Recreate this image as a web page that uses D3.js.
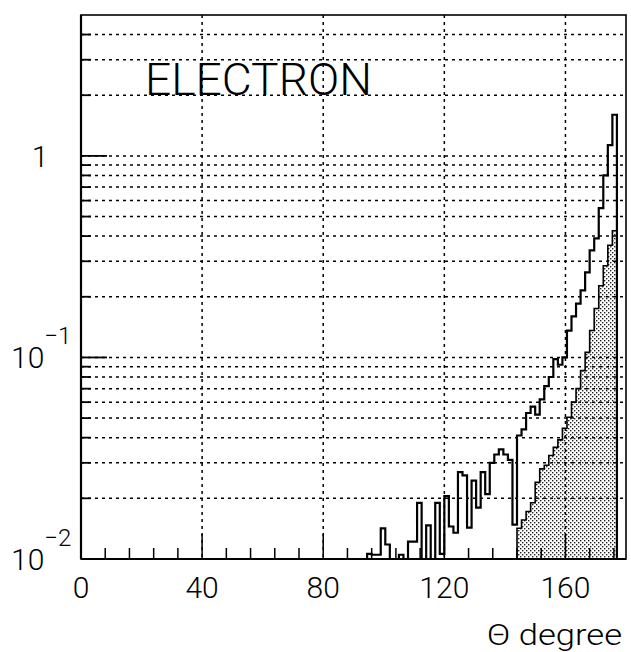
<!DOCTYPE html>
<html>
<head>
<meta charset="utf-8">
<script src="https://cdn.jsdelivr.net/npm/d3@7"></script>
<style>
  body { margin: 0; background: #fff; }
  text { font-family: Roboto, "DejaVu Sans", sans-serif; font-weight: 300; fill: #000; }
</style>
</head>
<body>
<div id="svg-holder"></div>
<script>
let svg = d3.select("#svg-holder").append('svg'),
    width = 631,
    height = 652

svg.attr("width", width)
    .attr("height", height)

// histogram data (theta bin lower edge in degrees, bin width 1.5)
let binWidth = 1.5
let allTheta = [94.5, 96, 97.5, 99, 100.5, 102, 103.5, 105, 106.5, 108, 109.5, 111, 112.5, 114, 115.5,
    117, 118.5, 120, 121.5, 123, 124.5, 126, 127.5, 129, 130.5, 132, 133.5, 135, 136.5, 138, 139.5,
    141, 142.5, 144, 145.5, 147, 148.5, 150, 151.5, 153, 154.5, 156, 157.5, 159, 160.5, 162, 163.5,
    165, 166.5, 168, 169.5, 171, 172.5, 174, 175.5]
let allValues = [0.0106, 0.0105, 0.0105, 0.0142, 0.0118, 0, 0, 0.0105, 0, 0.0122, 0.0122, 0.019, 0, 0.0147, 0,
    0.019, 0.0106, 0.0205, 0.0145, 0.0135, 0.027, 0.026, 0.0143, 0.0245, 0.018, 0.027, 0.021, 0.030, 0.033, 0.035, 0.033,
    0.031, 0.0148, 0.041, 0.044, 0.053, 0.057, 0.052, 0.062, 0.072, 0.080, 0.098, 0.092, 0.100, 0.136, 0.160, 0.185,
    0.215, 0.264, 0.34, 0.39, 0.55, 0.80, 1.13, 1.60]

let shadedTheta = [144, 145.5, 147, 148.5, 150, 151.5, 153, 154.5, 156, 157.5, 159, 160.5, 162, 163.5,
    165, 166.5, 168, 169.5, 171, 172.5, 174, 175.5]
let shadedValues = [0.0142, 0.0156, 0.0172, 0.019, 0.024, 0.028, 0.0292, 0.0326, 0.0358, 0.039, 0.0445, 0.0505, 0.060, 0.070,
    0.086, 0.106, 0.136, 0.175, 0.227, 0.285, 0.36, 0.425]

let xMajor = [0, 40, 80, 120, 160]
let xMinor = [8, 16, 24, 32, 48, 56, 64, 72, 88, 96, 104, 112, 128, 136, 144, 152, 168, 176]
let yGrid = [0.02, 0.03, 0.04, 0.05, 0.06, 0.07, 0.08, 0.09, 0.1, 0.2, 0.3, 0.4, 0.5, 0.6, 0.7, 0.8, 0.9, 1, 2, 3, 4]
let yMajor = [0.1, 1]

let pLeft = 81, pRight = 626, pTop = 15, pBottom = 559

let x = d3.scaleLinear()
    .domain([0, 180])
    .range([pLeft, pRight])

let y = d3.scaleLog()
    .domain([0.01, 5])
    .range([pBottom, pTop])

let yv = v => v > 0.01 ? y(v) : pBottom

// stipple for shaded histogram
let defs = svg.append('defs')
let pat = defs.append('pattern')
    .attr('id', 'stipple')
    .attr('patternUnits', 'userSpaceOnUse')
    .attr('width', 4)
    .attr('height', 4)
pat.append('rect').attr('x', 0).attr('y', 0).attr('width', 1.4).attr('height', 1.4).attr('fill', '#222')
pat.append('rect').attr('x', 2).attr('y', 2).attr('width', 1.4).attr('height', 1.4).attr('fill', '#222')

defs.append('clipPath').attr('id', 'plotclip')
    .append('rect')
    .attr('x', pLeft).attr('y', pTop)
    .attr('width', pRight - pLeft).attr('height', pBottom - pTop)

// Gridlines
svg.append('g')
    .selectAll('line')
    .data(yGrid)
    .enter()
    .append('line')
        .attr('x1', pLeft)
        .attr('x2', pRight)
        .attr('y1', d => y(d))
        .attr('y2', d => y(d))
        .attr('stroke', 'black')
        .attr('stroke-width', 1.5)
        .attr('stroke-dasharray', '3,4')

svg.append('g')
    .selectAll('line')
    .data(xMajor.slice(1))
    .enter()
    .append('line')
        .attr('x1', d => x(d))
        .attr('x2', d => x(d))
        .attr('y1', pTop)
        .attr('y2', pBottom)
        .attr('stroke', 'black')
        .attr('stroke-width', 1.5)
        .attr('stroke-dasharray', '3,4')

// Label
svg.append('text')
    .attr('x', 145)
    .attr('y', 95)
    .attr('font-size', 45)
    .attr('textLength', 227)
    .attr('lengthAdjust', 'spacingAndGlyphs')
    .text('ELECTRON')

// histogram step paths
function stepPoints(thetas, values) {
    let pts = [[x(thetas[0]), pBottom]]
    thetas.forEach((t, i) => {
        pts.push([x(t), yv(values[i])])
        pts.push([x(t + binWidth), yv(values[i])])
    })
    pts.push([x(thetas[thetas.length - 1] + binWidth), pBottom])
    return pts
}

let line = d3.line()
let plot = svg.append('g').attr('clip-path', 'url(#plotclip)')

plot.append('path')
    .attr('d', line(stepPoints(shadedTheta, shadedValues)) + 'Z')
    .attr('fill', 'url(#stipple)')
    .attr('stroke', 'black')
    .attr('stroke-width', 1.6)

plot.append('path')
    .attr('d', line(stepPoints(allTheta, allValues)))
    .attr('fill', 'none')
    .attr('stroke', 'black')
    .attr('stroke-width', 2.2)
    .attr('stroke-linejoin', 'miter')

// Ticks
svg.append('g')
    .selectAll('line')
    .data(xMinor)
    .enter()
    .append('line')
        .attr('x1', d => x(d))
        .attr('x2', d => x(d))
        .attr('y1', pBottom)
        .attr('y2', pBottom - 11)
        .attr('stroke', 'black')
        .attr('stroke-width', 1.5)

svg.append('g')
    .selectAll('line')
    .data(xMajor)
    .enter()
    .append('line')
        .attr('x1', d => x(d))
        .attr('x2', d => x(d))
        .attr('y1', pBottom)
        .attr('y2', pBottom - 25)
        .attr('stroke', 'black')
        .attr('stroke-width', 1.5)

svg.append('g')
    .selectAll('line')
    .data(yGrid)
    .enter()
    .append('line')
        .attr('x1', pLeft)
        .attr('x2', d => yMajor.includes(d) ? pLeft + 26 : pLeft + 10)
        .attr('y1', d => y(d))
        .attr('y2', d => y(d))
        .attr('stroke', 'black')
        .attr('stroke-width', 1.8)

// Frame
svg.append('rect')
    .attr('x', pLeft)
    .attr('y', pTop)
    .attr('width', pRight - pLeft)
    .attr('height', pBottom - pTop)
    .attr('fill', 'none')
    .attr('stroke', 'black')
    .attr('stroke-width', 1.6)

svg.append('line')
    .attr('x1', pLeft).attr('x2', pLeft)
    .attr('y1', pTop).attr('y2', pBottom)
    .attr('stroke', 'black').attr('stroke-width', 2.2)

svg.append('line')
    .attr('x1', pLeft).attr('x2', pRight)
    .attr('y1', pBottom).attr('y2', pBottom)
    .attr('stroke', 'black').attr('stroke-width', 2.2)

// x tick labels
svg.append('g')
    .selectAll('text')
    .data(xMajor)
    .enter()
    .append('text')
        .attr('x', d => x(d))
        .attr('y', 598)
        .attr('font-size', 30)
        .attr('text-anchor', 'middle')
        .text(d => d)

svg.append('text')
    .attr('x', 487)
    .attr('y', 645)
    .attr('font-size', 30)
    .attr('textLength', 135)
    .attr('lengthAdjust', 'spacingAndGlyphs')
    .text('\u0398 degree')

// y tick labels
svg.append('text')
    .attr('x', 40)
    .attr('y', y(1) + 11)
    .attr('font-size', 30)
    .attr('text-anchor', 'middle')
    .text('1')

let yExpLabels = [{v: 0.1, e: '\u22121'}, {v: 0.01, e: '\u22122'}]
yExpLabels.forEach(d => {
    let t = svg.append('text')
        .attr('x', 11)
        .attr('y', y(d.v) + 11)
        .attr('font-size', 30)
    t.append('tspan').text('10')
    t.append('tspan')
        .attr('dx', 0)
        .attr('dy', -24)
        .attr('font-size', 24)
        .text(d.e)
})
</script>
</body>
</html>
